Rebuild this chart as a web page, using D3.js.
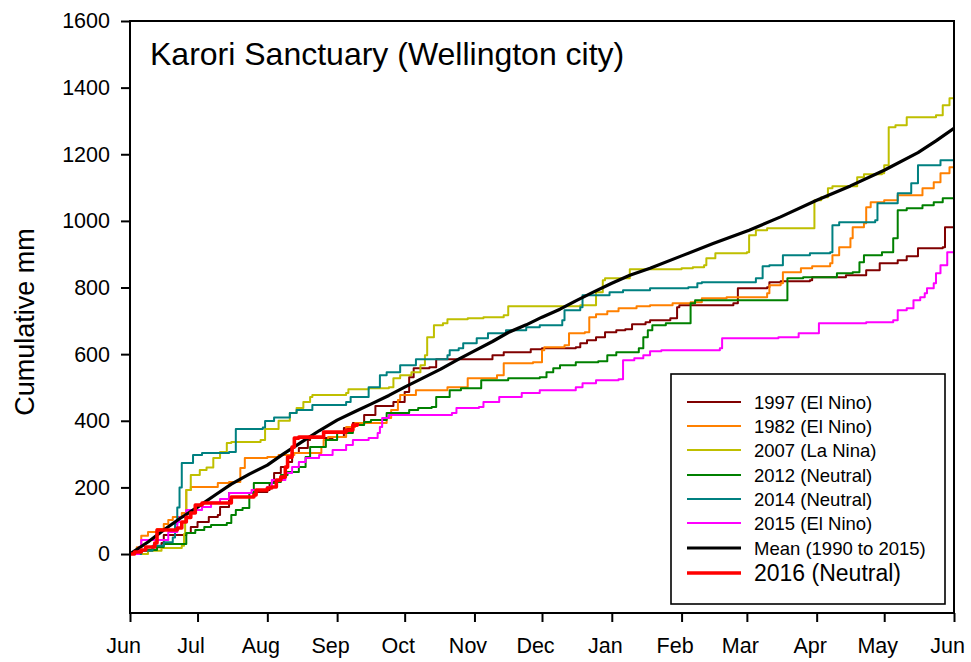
<!DOCTYPE html>
<html>
<head>
<meta charset="utf-8">
<script src="https://cdn.jsdelivr.net/npm/d3@7/dist/d3.min.js"></script>
<style>
  html, body { margin: 0; padding: 0; background: #fff; }
  svg { display: block; font-family: Arial, "Liberation Sans", sans-serif; }
</style>
</head>
<body>
<svg id="chart" width="971" height="662"></svg>
<script>
// ---- Data: [day offset from 1 June, cumulative mm] ----
const s1997 = [[0,0],[5,10],[10,20],[14,33],[15,57],[25,63],[27,81],[30,96],[35,111],[39,117],[40,141],[44,183],[55,186],[61,192],[62,213],[64,243],[67,261],[70,276],[72,303],[75,318],[79,342],[80,348],[90,351],[95,378],[99,393],[104,417],[109,444],[117,456],[122,486],[124,531],[126,558],[133,561],[136,585],[161,597],[166,606],[178,615],[183,618],[198,621],[200,633],[203,642],[207,651],[211,666],[216,672],[220,675],[223,690],[229,696],[231,702],[240,708],[243,741],[244,747],[268,753],[270,798],[283,801],[284,816],[289,819],[302,822],[303,831],[318,837],[327,852],[333,873],[341,882],[345,894],[350,918],[361,921],[362,981],[366,981]];
const s1982 = [[0,0],[3,20],[5,55],[8,66],[12,75],[15,90],[17,102],[19,111],[23,123],[25,192],[27,201],[39,213],[44,216],[49,258],[51,288],[61,291],[66,297],[73,303],[85,321],[86,342],[88,351],[96,381],[100,393],[114,408],[116,432],[119,462],[120,477],[127,492],[141,501],[150,528],[163,537],[166,573],[179,576],[183,612],[184,621],[193,627],[195,663],[202,666],[204,711],[207,720],[212,729],[217,738],[225,744],[231,747],[241,753],[249,756],[254,768],[265,771],[283,783],[284,807],[289,813],[290,846],[298,858],[303,864],[311,873],[312,897],[315,921],[320,948],[321,981],[326,993],[327,1041],[329,1056],[335,1062],[341,1077],[352,1098],[357,1116],[360,1143],[364,1161],[366,1173]];
const s2007 = [[0,0],[8,10],[14,18],[23,25],[24,60],[24.5,111],[25,192],[27,237],[31,252],[34,260],[37,288],[40,306],[43,333],[45,336],[58,342],[60,375],[66,400],[71,423],[74,438],[77,456],[80,471],[81,477],[96,483],[97,495],[106,498],[115,501],[117,528],[120,537],[125,546],[129,567],[131,597],[132,651],[135,687],[139,693],[141,705],[150,708],[157,711],[166,717],[168,744],[200,747],[207,786],[210,822],[211,828],[222,855],[245,858],[250,861],[255,867],[256,888],[260,903],[274,906],[275,957],[278,972],[283,978],[304,1062],[307,1071],[310,1098],[312,1104],[323,1131],[326,1140],[334,1143],[335,1167],[337,1281],[340,1287],[345,1311],[358,1317],[361,1347],[364,1368],[366,1368]];
const s2012 = [[0,0],[4,12],[12,21],[15,30],[25,63],[29,72],[33,81],[36,87],[43,93],[45,117],[47,132],[50,138],[53,183],[55,213],[65,216],[67,237],[70,246],[75,261],[78,291],[80,321],[87,342],[92,363],[99,387],[104,396],[107,402],[114,423],[124,432],[128,438],[134,441],[136,471],[142,492],[147,498],[156,522],[168,528],[182,531],[185,546],[188,558],[191,567],[198,576],[208,579],[212,597],[216,606],[226,618],[228,651],[230,672],[232,687],[238,693],[249,753],[251,762],[291,762],[292,828],[299,831],[314,843],[321,846],[324,876],[326,897],[334,906],[339,948],[341,1032],[345,1038],[352,1047],[357,1056],[361,1068],[366,1071]];
const s2014 = [[0,0],[5,10],[10,25],[15,35],[19,50],[20,90],[21,140],[22,200],[23,273],[28,297],[32,303],[44,306],[47,375],[59,380],[60,399],[64,410],[71,423],[74,432],[81,447],[96,456],[98,471],[106,501],[111,537],[114,546],[120,567],[127,585],[141,597],[142,612],[146,618],[148,633],[154,648],[159,663],[167,672],[176,681],[182,687],[192,702],[193,732],[200,741],[201,777],[213,786],[219,792],[231,798],[248,801],[252,813],[254,816],[278,828],[281,864],[284,867],[290,897],[302,903],[311,906],[312,987],[315,996],[331,1002],[332,1053],[341,1083],[347,1113],[350,1167],[360,1182],[366,1182]];
const s2015 = [[0,0],[4,21],[5,42],[14,42],[17,66],[21,96],[22,111],[25,132],[31,132],[32,141],[36,155],[40,165],[44,183],[54,192],[61,201],[63,222],[69,243],[72,261],[75,276],[78,288],[84,297],[90,312],[96,327],[99,342],[106,348],[110,363],[111,381],[112,408],[115,417],[143,423],[145,438],[155,441],[157,456],[164,471],[174,483],[182,492],[198,501],[201,513],[207,522],[217,525],[219,582],[224,588],[228,597],[231,609],[236,612],[262,618],[263,648],[288,651],[297,663],[306,693],[327,696],[339,702],[341,732],[345,738],[348,762],[351,771],[353,783],[354,798],[357,813],[358,843],[360,867],[363,906],[366,910]];
const sMean = [[0,0],[8,36],[15,72],[22,106],[30,141],[38,178],[45,210],[53,240],[61,267],[68,300],[76,335],[84,370],[92,402],[100,428],[107,450],[115,476],[122,501],[130,528],[138,555],[146,585],[153,610],[161,638],[168,665],[176,688],[183,711],[191,735],[198,760],[206,787],[214,813],[222,837],[231,858],[245,895],[259,932],[275,972],[289,1012],[305,1062],[320,1105],[335,1152],[350,1205],[358,1240],[366,1278]];
const s2016 = [[0,0],[2,6],[5,12],[7,21],[11,33],[12,72],[21,78],[23,96],[25,110],[27,123],[29,147],[32,153],[44,153],[45,171],[55,177],[56,192],[61,198],[63,201],[65,222],[67,231],[69,261],[70,291],[72,321],[73,348],[75,351],[81,351],[86,366],[96,372],[99,387],[101,393]];

const yTicks = [0, 200, 400, 600, 800, 1000, 1200, 1400, 1600];
const legendLabels = ["1997 (El Nino)", "1982 (El Nino)", "2007 (La Nina)", "2012 (Neutral)", "2014 (Neutral)", "2015 (El Nino)", "Mean (1990 to 2015)", "2016 (Neutral)"];
const titleText = "Karori Sanctuary (Wellington city)";
const yLabel = "Cumulative mm";

// ---- Styles ----
const series = [
  {data: s1997, color: "#800000", width: 2, step: true},
  {data: s1982, color: "#ff8000", width: 2, step: true},
  {data: s2007, color: "#bfbf00", width: 2, step: true},
  {data: s2012, color: "#008000", width: 2, step: true},
  {data: s2014, color: "#008080", width: 2, step: true},
  {data: s2015, color: "#ff00ff", width: 2, step: true},
  {data: sMean, color: "#000000", width: 3.2, step: false},
  {data: s2016, color: "#ff0000", width: 3.6, step: true}
];

const svg = d3.select("#chart");
const L = 130, R = 954, T = 21, B = 613;
const start = Date.UTC(2015, 5, 1), end = Date.UTC(2016, 5, 1);
const x = d3.scaleUtc().domain([new Date(start), new Date(end)]).range([L, R]);
const y = d3.scaleLinear().domain([-177, 1600]).range([B, T]);
const toDate = d => new Date(start + d * 864e5);

svg.append("defs").append("clipPath").attr("id", "clip")
  .append("rect").attr("x", L).attr("y", T).attr("width", R - L).attr("height", B - T);

const g = svg.append("g").attr("clip-path", "url(#clip)");
series.forEach(s => {
  const line = d3.line()
    .x(p => x(toDate(p[0])))
    .y(p => y(p[1]))
    .curve(s.step ? d3.curveStepAfter : d3.curveLinear);
  g.append("path").datum(s.data)
    .attr("d", line)
    .attr("fill", "none")
    .attr("stroke", s.color)
    .attr("stroke-width", s.width)
    .attr("stroke-linejoin", "round")
    .attr("stroke-linecap", "butt");
});

// axes
const months = d3.utcMonth.range(new Date(start), new Date(end + 1));
const xAxis = d3.axisBottom(x).tickValues(months).tickFormat(d3.utcFormat("%b")).tickSize(9).tickPadding(8);
const yAxis = d3.axisLeft(y).tickValues(yTicks).tickFormat(d3.format("d")).tickSize(9).tickPadding(11);

const gx = svg.append("g").attr("transform", `translate(0,${B})`).call(xAxis);
const gy = svg.append("g").attr("transform", `translate(${L},0)`).call(yAxis);
[gx, gy].forEach(a => {
  a.select(".domain").remove();
  a.selectAll(".tick line").attr("stroke", "#000").attr("stroke-width", 2);
  a.selectAll(".tick text").attr("fill", "#000").style("font-size", "21.5px")
    .style("font-family", "Arial, 'Liberation Sans', sans-serif");
});
gx.selectAll(".tick text").attr("y", 40).attr("dy", 0).attr("dx", -7);

// frame
svg.append("rect").attr("x", L).attr("y", T).attr("width", R - L).attr("height", B - T)
  .attr("fill", "none").attr("stroke", "#000").attr("stroke-width", 2);

// title
svg.append("text").attr("x", 150).attr("y", 65).text(titleText)
  .style("font-size", "32px").attr("fill", "#000");

// y label
svg.append("text").attr("transform", `translate(34,322) rotate(-90)`)
  .attr("text-anchor", "middle").text(yLabel)
  .style("font-size", "27px").attr("fill", "#000");

// legend
const lg = svg.append("g");
lg.append("rect").attr("x", 671).attr("y", 374).attr("width", 274).attr("height", 230)
  .attr("fill", "#fff").attr("stroke", "#000").attr("stroke-width", 1.6);
const rowY = [402, 426, 450, 475, 499, 523, 548, 573];
series.forEach((s, i) => {
  lg.append("line").attr("x1", 687).attr("x2", 741).attr("y1", rowY[i]).attr("y2", rowY[i])
    .attr("stroke", s.color).attr("stroke-width", s.width);
  lg.append("text").attr("x", 754).attr("y", rowY[i]).attr("dy", "0.36em")
    .text(legendLabels[i])
    .style("font-size", i === 7 ? "23px" : "18.5px")
    .attr("fill", "#000");
});
</script>
</body>
</html>
